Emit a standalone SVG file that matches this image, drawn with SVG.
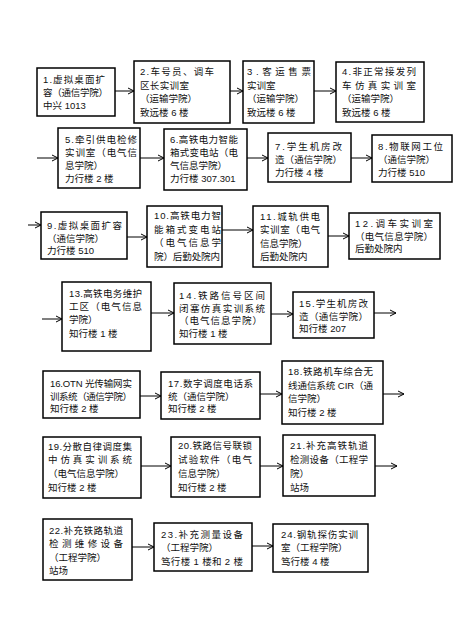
<svg xmlns="http://www.w3.org/2000/svg" width="465" height="626" viewBox="0 0 465 626">
<style>
rect.b{fill:#fff;stroke:#000;stroke-width:1.5}
text{font-family:"Liberation Sans","Noto Sans CJK SC",sans-serif;font-size:9.5px;fill:#111}
line.c{stroke:#000;stroke-width:1;marker-end:url(#arr)}
</style>
<defs>
<marker id="arr" markerWidth="8" markerHeight="8" refX="7" refY="4" orient="auto" markerUnits="userSpaceOnUse"><path d="M1,1 L7,4 L1,7" fill="none" stroke="#000" stroke-width="1"/></marker>
</defs>
<rect width="465" height="626" fill="#fff"/>
<g id="connectors">
<line class="c" x1="115" y1="91" x2="134" y2="91"/>
<line class="c" x1="230" y1="91" x2="243" y2="91"/>
<line class="c" x1="314" y1="91" x2="336" y2="91"/>
<line class="c" x1="37" y1="158" x2="58" y2="158"/>
<line class="c" x1="140" y1="158" x2="164" y2="158"/>
<line class="c" x1="247" y1="158" x2="268" y2="158"/>
<line class="c" x1="351" y1="158" x2="372" y2="158"/>
<line class="c" x1="28" y1="225" x2="41" y2="225"/>
<line class="c" x1="127" y1="237" x2="147" y2="237"/>
<line class="c" x1="222" y1="230" x2="253" y2="230"/>
<line class="c" x1="328" y1="236" x2="349" y2="236"/>
<line class="c" x1="42" y1="319" x2="62" y2="319"/>
<line class="c" x1="151" y1="313" x2="174" y2="313"/>
<line class="c" x1="271" y1="314" x2="293" y2="314"/>
<line class="c" x1="374" y1="313" x2="396" y2="313"/>
<line class="c" x1="140" y1="396" x2="161" y2="396"/>
<line class="c" x1="260" y1="394" x2="282" y2="394"/>
<line class="c" x1="383" y1="394" x2="404" y2="394"/>
<line class="c" x1="141" y1="466" x2="171" y2="466"/>
<line class="c" x1="260" y1="466" x2="283" y2="466"/>
<line class="c" x1="375" y1="466" x2="397" y2="466"/>
<line class="c" x1="132" y1="547" x2="154" y2="547"/>
<line class="c" x1="252" y1="546" x2="273" y2="546"/>
</g>
<g id="n1"><rect class="b" x="37" y="68" width="78" height="48"/>
<text x="43" y="83" textLength="62" lengthAdjust="spacing">1.虚拟桌面扩</text>
<text x="43" y="95.5" textLength="65" lengthAdjust="spacing">容（通信学院）</text>
<text x="43" y="108.5">中兴 1013</text></g>
<g id="n2"><rect class="b" x="134" y="61" width="96" height="62"/>
<text x="140" y="75" textLength="74" lengthAdjust="spacing">2.车号员、调车</text>
<text x="140" y="88.5" textLength="49" lengthAdjust="spacing">区长实训室</text>
<text x="140" y="101.5">（运输学院）</text>
<text x="140" y="115.5">致远楼 6 楼</text></g>
<g id="n3"><rect class="b" x="243" y="61" width="71" height="62"/>
<text x="247" y="75" textLength="64" lengthAdjust="spacing">3.客运售票</text>
<text x="247" y="88.5">实训室</text>
<text x="247" y="101.5">（运输学院）</text>
<text x="247" y="115.5">致远楼 6 楼</text></g>
<g id="n4"><rect class="b" x="336" y="62" width="88" height="60"/>
<text x="342" y="75" textLength="74" lengthAdjust="spacing">4.非正常接发列</text>
<text x="342" y="88.5" textLength="74" lengthAdjust="spacing">车仿真实训室</text>
<text x="342" y="101.5">（运输学院）</text>
<text x="342" y="115.5">致远楼 6 楼</text></g>
<g id="n5"><rect class="b" x="58" y="128" width="82" height="60"/>
<text x="65" y="143" textLength="72" lengthAdjust="spacing">5.牵引供电检修</text>
<text x="65" y="156" textLength="72" lengthAdjust="spacing">实训室（电气信</text>
<text x="65" y="169">息学院）</text>
<text x="65" y="182">力行楼 2 楼</text></g>
<g id="n6"><rect class="b" x="164" y="129" width="83" height="61"/>
<text x="170" y="143" textLength="68" lengthAdjust="spacing">6.高铁电力智能</text>
<text x="170" y="156" textLength="68" lengthAdjust="spacing">箱式变电站（电</text>
<text x="170" y="169">气信息学院）</text>
<text x="170" y="182">力行楼 307.301</text></g>
<g id="n7"><rect class="b" x="268" y="133" width="83" height="49"/>
<text x="275" y="150" textLength="67" lengthAdjust="spacing">7.学生机房改</text>
<text x="275" y="162.5" textLength="67" lengthAdjust="spacing">造（通信学院）</text>
<text x="275" y="175.5">力行楼 4 楼</text></g>
<g id="n8"><rect class="b" x="372" y="135" width="80" height="47"/>
<text x="378" y="150" textLength="65" lengthAdjust="spacing">8.物联网工位</text>
<text x="378" y="162.5">（通信学院）</text>
<text x="378" y="175.5">力行楼 510</text></g>
<g id="n9"><rect class="b" x="41" y="212" width="86" height="47"/>
<text x="47" y="229" textLength="75" lengthAdjust="spacing">9.虚拟桌面扩容</text>
<text x="47" y="241.5">（通信学院）</text>
<text x="47" y="254">力行楼 510</text></g>
<g id="n10"><rect class="b" x="147" y="206" width="75" height="61"/>
<text x="154" y="219" textLength="67" lengthAdjust="spacing">10.高铁电力智</text>
<text x="154" y="232.5" textLength="67" lengthAdjust="spacing">能箱式变电站</text>
<text x="154" y="246" textLength="67" lengthAdjust="spacing">（电气信息学</text>
<text x="154" y="259.5" textLength="66" lengthAdjust="spacing">院）后勤处院内</text></g>
<g id="n11"><rect class="b" x="253" y="206" width="75" height="61"/>
<text x="260" y="219.5" textLength="60" lengthAdjust="spacing">11.城轨供电</text>
<text x="260" y="233" textLength="60" lengthAdjust="spacing">实训室（电气</text>
<text x="260" y="246.5">信息学院）</text>
<text x="260" y="260">后勤处院内</text></g>
<g id="n12"><rect class="b" x="349" y="213" width="91" height="46"/>
<text x="355" y="227" textLength="78" lengthAdjust="spacing">12.调车实训室</text>
<text x="355" y="239.5" textLength="78" lengthAdjust="spacing">（电气信息学院）</text>
<text x="355" y="252">后勤处院内</text></g>
<g id="n13"><rect class="b" x="62" y="282" width="89" height="69"/>
<text x="69" y="297" textLength="73" lengthAdjust="spacing">13.高铁电务维护</text>
<text x="69" y="310" textLength="73" lengthAdjust="spacing">工区（电气信息</text>
<text x="69" y="323">学院）</text>
<text x="69" y="336.5">知行楼 1 楼</text></g>
<g id="n14"><rect class="b" x="174" y="283" width="97" height="61"/>
<text x="179" y="298.5" textLength="86" lengthAdjust="spacing">14.铁路信号区间</text>
<text x="179" y="311.5" textLength="86" lengthAdjust="spacing">闭塞仿真实训系统</text>
<text x="179" y="324" textLength="83" lengthAdjust="spacing">（电气信息学院）</text>
<text x="179" y="337">知行楼 1 楼</text></g>
<g id="n15"><rect class="b" x="293" y="292" width="81" height="46"/>
<text x="299" y="307" textLength="69" lengthAdjust="spacing">15.学生机房改</text>
<text x="299" y="319.5" textLength="69" lengthAdjust="spacing">造（通信学院）</text>
<text x="299" y="332">知行楼 207</text></g>
<g id="n16"><rect class="b" x="43" y="371" width="97" height="47"/>
<text x="50" y="387" textLength="82" lengthAdjust="spacing">16.OTN 光传输网实</text>
<text x="50" y="399.5" textLength="82" lengthAdjust="spacing">训系统（通信学院）</text>
<text x="50" y="412">知行楼 2 楼</text></g>
<g id="n17"><rect class="b" x="161" y="372" width="99" height="47"/>
<text x="168" y="387" textLength="85" lengthAdjust="spacing">17.数字调度电话系</text>
<text x="168" y="399.5">统（通信学院）</text>
<text x="168" y="412">知行楼 2 楼</text></g>
<g id="n18"><rect class="b" x="282" y="361" width="101" height="63"/>
<text x="288" y="375" textLength="85" lengthAdjust="spacing">18.铁路机车综合无</text>
<text x="288" y="388.5" textLength="85" lengthAdjust="spacing">线通信系统 CIR（通</text>
<text x="288" y="401.5">信学院）</text>
<text x="288" y="415.5">知行楼 2 楼</text></g>
<g id="n19"><rect class="b" x="43" y="437" width="98" height="61"/>
<text x="48" y="449.5" textLength="84" lengthAdjust="spacing">19.分散自律调度集</text>
<text x="48" y="463" textLength="84" lengthAdjust="spacing">中仿真实训系统</text>
<text x="48" y="476.5">（电气信息学院）</text>
<text x="48" y="490.5">知行楼 2 楼</text></g>
<g id="n20"><rect class="b" x="171" y="437" width="89" height="60"/>
<text x="178" y="449" textLength="74" lengthAdjust="spacing">20.铁路信号联锁</text>
<text x="178" y="463" textLength="74" lengthAdjust="spacing">试验软件（电气</text>
<text x="178" y="476.5">信息学院）</text>
<text x="178" y="490.5">知行楼 2 楼</text></g>
<g id="n21"><rect class="b" x="283" y="435" width="92" height="61"/>
<text x="290" y="449" textLength="78" lengthAdjust="spacing">21.补充高铁轨道</text>
<text x="290" y="463" textLength="78" lengthAdjust="spacing">检测设备（工程学</text>
<text x="290" y="476.5">院）</text>
<text x="290" y="490.5">站场</text></g>
<g id="n22"><rect class="b" x="43" y="519" width="89" height="61"/>
<text x="49" y="534" textLength="74" lengthAdjust="spacing">22.补充铁路轨道</text>
<text x="49" y="547" textLength="74" lengthAdjust="spacing">检测维修设备</text>
<text x="49" y="560.5">（工程学院）</text>
<text x="49" y="574">站场</text></g>
<g id="n23"><rect class="b" x="154" y="523" width="98" height="48"/>
<text x="161" y="538" textLength="82" lengthAdjust="spacing">23.补充测量设备</text>
<text x="161" y="551">（工程学院）</text>
<text x="161" y="564.5" textLength="82" lengthAdjust="spacing">笃行楼 1 楼和 2 楼</text></g>
<g id="n24"><rect class="b" x="273" y="524" width="95" height="48"/>
<text x="281" y="538" textLength="77" lengthAdjust="spacing">24.钢轨探伤实训</text>
<text x="281" y="551">室（工程学院）</text>
<text x="281" y="564.5">笃行楼 4 楼</text></g>
</svg>
